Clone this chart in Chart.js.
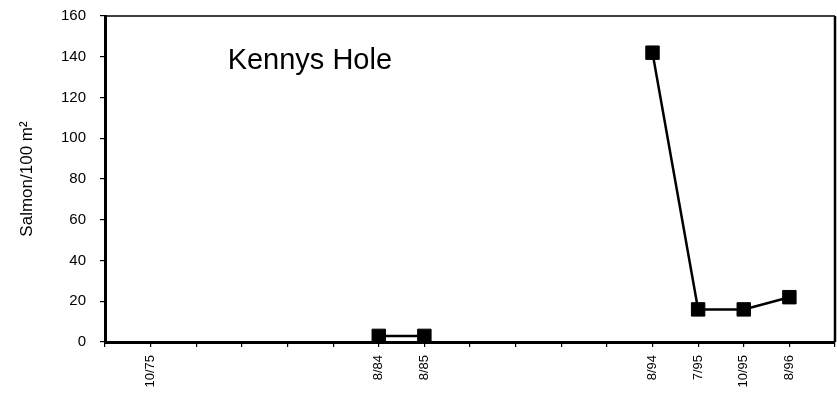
<!DOCTYPE html>
<html>
<head>
<meta charset="utf-8">
<script src="https://cdn.jsdelivr.net/npm/chart.js@4"></script>
<style>
  html, body { margin: 0; padding: 0; background: #fff; }
  #wrap { width: 837px; height: 393px; position: relative; }
</style>
</head>
<body>
<div id="wrap"><canvas id="c" width="837" height="393"></canvas></div>
<script>
// Survey dates along the x axis (blank slots are years without a survey)
const surveyDates = ['', '10/75', '', '', '', '', '8/84', '8/85', '', '', '', '', '8/94', '7/95', '10/95', '8/96', ''];
// Salmon density per 100 m² at each survey
const salmonDensity = [null, null, null, null, null, null, 3, 3, null, null, null, null, 142, 16, 16, 22, null];
// Y axis range and step
const yMin = 0, yMax = 160, yStep = 20;
const siteName = 'Kennys Hole';

// Frame around the plot area plus the site name
const framePlugin = {
  id: 'frame',
  afterDraw(chart) {
    const { ctx, chartArea: a } = chart;
    ctx.save();
    ctx.strokeStyle = '#000';
    ctx.lineWidth = 1.5;
    ctx.beginPath();
    ctx.moveTo(a.left, a.top);
    ctx.lineTo(a.right, a.top);
    ctx.stroke();
    ctx.lineWidth = 2.5;
    ctx.beginPath();
    ctx.moveTo(a.right, a.top);
    ctx.lineTo(a.right, a.bottom);
    ctx.stroke();
    ctx.fillStyle = '#000';
    ctx.font = '29px "Liberation Sans", Arial, sans-serif';
    ctx.textBaseline = 'alphabetic';
    ctx.textAlign = 'left';
    ctx.fillText(siteName, a.left + (a.right - a.left) * 0.168, a.top + 53);
    ctx.restore();
  }
};

const fontFamily = '"Liberation Sans", Arial, sans-serif';

new Chart(document.getElementById('c'), {
  type: 'line',
  data: {
    labels: surveyDates,
    datasets: [{
      data: salmonDensity,
      borderColor: '#000',
      backgroundColor: '#000',
      borderWidth: 2.5,
      pointStyle: 'rect',
      pointRadius: 9.5,
      pointBorderWidth: 1,
      pointBackgroundColor: '#000',
      pointBorderColor: '#000',
      spanGaps: false,
      tension: 0
    }]
  },
  options: {
    responsive: false,
    animation: false,
    layout: { autoPadding: false, padding: { top: 16, right: 2, left: 0, bottom: 0 } },
    plugins: { legend: { display: false }, tooltip: { enabled: false } },
    scales: {
      x: {
        type: 'category',
        offset: false,
        grid: { drawOnChartArea: false, tickLength: 5, color: '#000', lineWidth: 1.2 },
        border: { color: '#000', width: 3 },
        ticks: {
          autoSkip: false,
          minRotation: 90,
          maxRotation: 90,
          padding: 8,
          color: '#000',
          font: { family: fontFamily, size: 13 }
        },
        afterFit(scale) {
          scale.height = 51;
          scale.paddingLeft = 0;
          scale.paddingRight = 0;
        }
      },
      y: {
        min: yMin,
        max: yMax,
        grid: { drawOnChartArea: false, tickLength: 5, color: '#000', lineWidth: 1.2 },
        border: { color: '#000', width: 3 },
        ticks: {
          stepSize: yStep,
          padding: 14,
          color: '#000',
          font: { family: fontFamily, size: 15 }
        },
        title: {
          display: true,
          text: 'Salmon/100 m²',
          color: '#000',
          font: { family: fontFamily, size: 17 },
          padding: { top: 17, bottom: 0 }
        },
        afterFit(scale) {
          scale.width = 105;
          scale.paddingTop = 0;
          scale.paddingBottom = 0;
        }
      }
    }
  },
  plugins: [framePlugin]
});
</script>
</body>
</html>
